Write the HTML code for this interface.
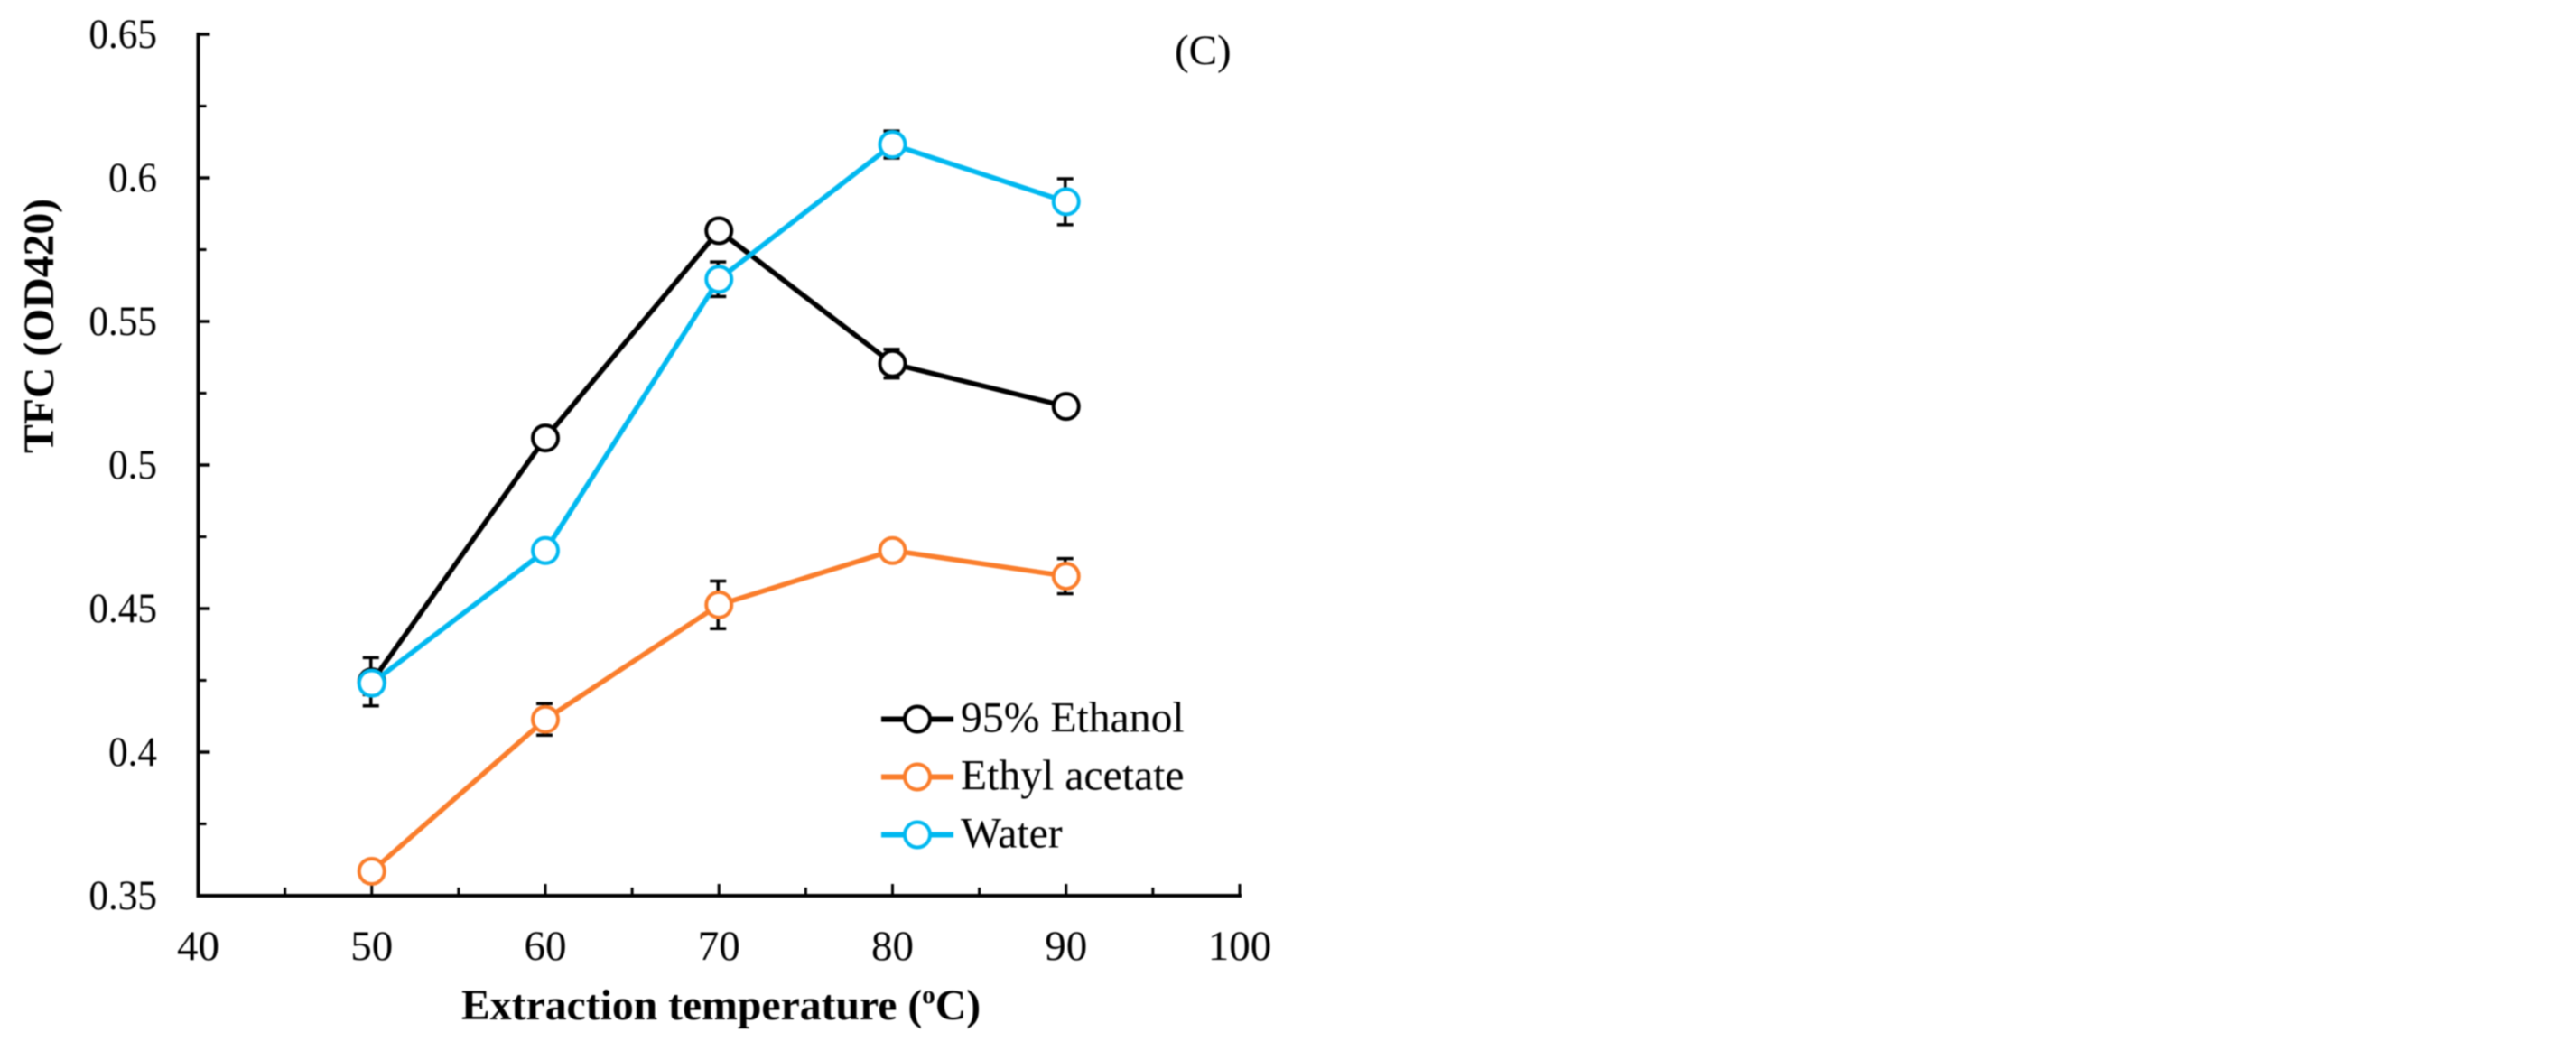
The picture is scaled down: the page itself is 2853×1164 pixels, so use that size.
<!DOCTYPE html>
<html lang="en">
<head>
<meta charset="utf-8">
<title>TFC vs extraction temperature</title>
<style>
html,body{margin:0;padding:0;background:#fff;width:2853px;height:1164px;overflow:hidden}
svg{display:block;filter:blur(0.8px)}
text{font-family:"Liberation Serif","Times New Roman",serif;fill:#000}
</style>
</head>
<body>
<svg id="chart" xmlns="http://www.w3.org/2000/svg" width="2853" height="1164" viewBox="0 0 2853 1164">
  <rect x="0" y="0" width="2853" height="1164" fill="#fff"/>
  <text x="1301" y="71" font-size="47">(C)</text>
  <text transform="translate(59,502) rotate(-90)" font-size="47.7" font-weight="bold">TFC (OD420)</text>
  <text x="511" y="1129" font-size="47.7" font-weight="bold">Extraction temperature (<tspan font-size="29" dy="-18">o</tspan><tspan dy="18">C)</tspan></text>
  <g id="axes"></g>
  <g id="series"></g>
  <g id="legend"></g>
</svg>
<script>
const categories = [50, 60, 70, 80, 90];
const ethanolValues = [0.4245, 0.5094, 0.5816, 0.5353, 0.5204];
const ethanolErrors = [0.0084, 0.001, 0.001, 0.005, 0.001];
const acetateValues = [0.3585, 0.4114, 0.4513, 0.4702, 0.4613];
const acetateErrors = [0.0035, 0.0055, 0.0083, 0.001, 0.0061];
const waterValues = [0.424, 0.4702, 0.5647, 0.6116, 0.5917];
const waterErrors = [0.004, 0.002, 0.006, 0.0047, 0.008];
const xTickValues = [40, 50, 60, 70, 80, 90, 100];
const xMinorTickValues = [45, 55, 65, 75, 85, 95];
const yTickValues = [0.35, 0.4, 0.45, 0.5, 0.55, 0.6, 0.65];
const yTickLabels = ['0.35', '0.4', '0.45', '0.5', '0.55', '0.6', '0.65'];
const yMinorTickValues = [0.375, 0.425, 0.475, 0.525, 0.575, 0.625];
const seriesNames = ['95% Ethanol', 'Ethyl acetate', 'Water'];
const seriesKeys = ['ethanol', 'ethyl-acetate', 'water'];
const seriesValues = [ethanolValues, acetateValues, waterValues];
const seriesErrors = [ethanolErrors, acetateErrors, waterErrors];
const seriesColors = ['#000000', '#FA7D2B', '#00B8F0'];

const NS = 'http://www.w3.org/2000/svg';
function xScale(v) { return 219.5 + (v - 40) * (1373 - 219.5) / 60; }
function yScale(v) { return 992 - (v - 0.35) * (992 - 38) / 0.3; }
function shape(tag, parent, attrs) {
  const el = document.createElementNS(NS, tag);
  for (const k in attrs) el.setAttribute(k, attrs[k]);
  parent.appendChild(el);
  return el;
}

const axes = document.getElementById('axes');
const seriesLayer = document.getElementById('series');
const legend = document.getElementById('legend');

const yLine = shape('line', axes, {x1: xScale(40), x2: xScale(40), y1: yScale(0.65) - 2, y2: yScale(0.35) + 2, stroke: '#000', 'stroke-width': 4});


const xLine = shape('line', axes, {x1: xScale(40) - 2, x2: xScale(100) + 2, y1: yScale(0.35), y2: yScale(0.35), stroke: '#000', 'stroke-width': 4});



yTickValues.forEach(function (v, i) {
  const tick = shape('line', axes, {x1: xScale(40), x2: xScale(40) + 13, y1: yScale(v), y2: yScale(v), stroke: '#000', 'stroke-width': 3.5});
  
  
  const label = shape('text', axes, {transform: 'translate(174,' + (yScale(v) + 15) + ') scale(0.92,1)', 'font-size': 47, 'text-anchor': 'end'});
  label.textContent = yTickLabels[i];
  
  
});
yMinorTickValues.forEach(function (v) {
  const tick = shape('line', axes, {x1: xScale(40), x2: xScale(40) + 9, y1: yScale(v), y2: yScale(v), stroke: '#000', 'stroke-width': 3});
  
  
});
xTickValues.forEach(function (v) {
  const tick = shape('line', axes, {x1: xScale(v), x2: xScale(v), y1: yScale(0.35), y2: yScale(0.35) - 13, stroke: '#000', 'stroke-width': 3});
  
  
  const label = shape('text', axes, {x: xScale(v), y: 1063, 'font-size': 47, 'text-anchor': 'middle'});
  label.textContent = String(v);
  
  
});
xMinorTickValues.forEach(function (v) {
  const tick = shape('line', axes, {x1: xScale(v), x2: xScale(v), y1: yScale(0.35), y2: yScale(0.35) - 9, stroke: '#000', 'stroke-width': 3});
  
  
});

seriesValues.forEach(function (values, s) {
  const group = shape('g', seriesLayer, {});
  
  
  categories.forEach(function (c, i) {
    const hi = yScale(values[i] + seriesErrors[s][i]);
    const lo = yScale(values[i] - seriesErrors[s][i]);
    const x = xScale(c) - 1;
    const bar = shape('path', group, {d: 'M' + (x - 9) + ' ' + hi + 'H' + (x + 9) + 'M' + x + ' ' + hi + 'V' + lo + 'M' + (x - 9) + ' ' + lo + 'H' + (x + 9), stroke: '#000', 'stroke-width': 3.5, fill: 'none'});
    
    
  });
  const points = categories.map(function (c, i) { return xScale(c) + ',' + yScale(values[i]); }).join(' ');
  const line = shape('polyline', group, {points: points, fill: 'none', stroke: seriesColors[s], 'stroke-width': 5.5, 'stroke-linejoin': 'round'});
  
  
  categories.forEach(function (c, i) {
    const dot = shape('circle', group, {cx: xScale(c), cy: yScale(values[i]), r: 14, fill: '#fff', stroke: seriesColors[s], 'stroke-width': 4});
    
    
  });
});

seriesNames.forEach(function (name, s) {
  const rowY = 796.5 + s * 64;
  const entry = shape('g', legend, {});
  
  
  const swatch = shape('line', entry, {x1: 976, x2: 1056, y1: rowY, y2: rowY, stroke: seriesColors[s], 'stroke-width': 6});
  
  
  const marker = shape('circle', entry, {cx: 1016, cy: rowY, r: 14, fill: '#fff', stroke: seriesColors[s], 'stroke-width': 4});
  
  
  const label = shape('text', entry, {x: 1064, y: rowY + 14, 'font-size': 47.7});
  label.textContent = name;
  
  
});
</script>
</body>
</html>
